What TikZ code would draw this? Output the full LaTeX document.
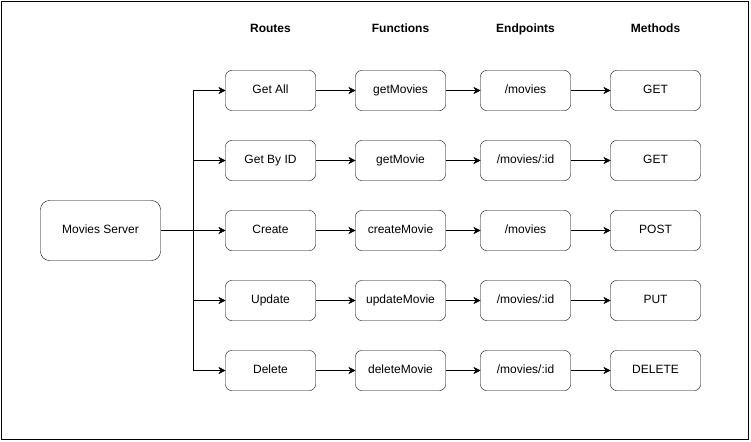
\documentclass[tikz,border=0pt]{standalone}
\usepackage{fontspec}
\setmainfont{Liberation Sans}
\usetikzlibrary{positioning, arrows.meta}
\tikzset{x=1pt, y=-1pt, line width=1pt,
  box/.style={draw, rounded corners=6pt, minimum width=90pt, minimum height=40pt, outer sep=0pt, text height=9pt, text depth=3pt, font=\fontsize{12}{14}\selectfont},
  head/.style={font=\fontsize{12}{14}\selectfont\bfseries, text height=9pt, text depth=3pt},
  link/.style={-{Stealth[length=7pt, width=7pt, inset=2pt]}}}

\begin{document}
\begin{tikzpicture}
    \useasboundingbox (0,0) rectangle (751,441);
    \draw (1,1) rectangle (748.5,439.5);

    \node[box, rounded corners=9pt, minimum width=120pt, minimum height=60pt] (server) at (100.5,230.5) {Movies Server};

    % routes
    \node[box] (getall) at (270.5,90.5) {Get All};
    \node[box, below=30pt of getall] (getbyid) {Get By ID};
    \node[box, below=30pt of getbyid] (create) {Create};
    \node[box, below=30pt of create] (update) {Update};
    \node[box, below=30pt of update] (delete) {Delete};

    % functions
    \node[box, right=40pt of getall] (getmovies) {getMovies};
    \node[box, right=40pt of getbyid] (getmovie) {getMovie};
    \node[box, right=40pt of create] (createmovie) {createMovie};
    \node[box, right=40pt of update] (updatemovie) {updateMovie};
    \node[box, right=40pt of delete] (deletemovie) {deleteMovie};

    % endpoints
    \node[box, right=35pt of getmovies] (allpath) {/movies};
    \node[box, right=35pt of getmovie] (idpath) {/movies/:id};
    \node[box, right=35pt of createmovie] (createpath) {/movies};
    \node[box, right=35pt of updatemovie] (updatepath) {/movies/:id};
    \node[box, right=35pt of deletemovie] (deletepath) {/movies/:id};

    % methods
    \node[box, right=40pt of allpath] (allget) {GET};
    \node[box, right=40pt of idpath] (idget) {GET};
    \node[box, right=40pt of createpath] (createpost) {POST};
    \node[box, right=40pt of updatepath] (updateput) {PUT};
    \node[box, right=40pt of deletepath] (deletedel) {DELETE};

    \node[head, above=31pt of getall] (routes) {Routes};
    \node[head, above=31pt of getmovies] (functions) {Functions};
    \node[head, above=31pt of allpath] (endpoints) {Endpoints};
    \node[head, above=31pt of allget] (methods) {Methods};

    \coordinate (fork) at (193.5,230.5);
    \draw (server) -- (fork);
    \foreach \r in {getall, getbyid, create, update, delete}
        \draw[link] (fork) |- (\r);
    \foreach \a/\b/\c/\d in {getall/getmovies/allpath/allget, getbyid/getmovie/idpath/idget,
        create/createmovie/createpath/createpost, update/updatemovie/updatepath/updateput,
        delete/deletemovie/deletepath/deletedel} {
        \draw[link] (\a) -- (\b);
        \draw[link] (\b) -- (\c);
        \draw[link] (\c) -- (\d);
    }
\end{tikzpicture}
\end{document}
